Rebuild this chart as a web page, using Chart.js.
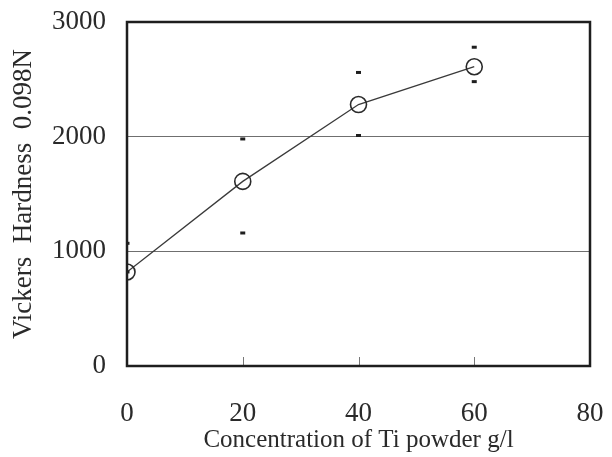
<!DOCTYPE html>
<html>
<head>
<meta charset="utf-8">
<script src="https://cdn.jsdelivr.net/npm/chart.js@4"></script>
<style>
  html, body { margin: 0; padding: 0; background: #fff; }
  #wrap { width: 612px; height: 457px; }
</style>
</head>
<body>
<div id="wrap"><canvas id="chart" width="612" height="457"></canvas></div>
<script>
  // Ti powder concentration (g/l) and Vickers hardness readings
  var concentration = [0, 20, 40, 60];
  var hardnessMean  = [820, 1610, 2280, 2610];
  var hardnessHigh  = [1070, 1980, 2560, 2780];
  var hardnessLow   = [820, 1160, 2010, 2480];
  var xTicks = [0, 20, 40, 60, 80];
  var yTicks = [0, 1000, 2000, 3000];

  function pts(ys) {
    return concentration.map(function (x, i) { return { x: x, y: ys[i] }; });
  }

  var serif = '"Liberation Serif", "DejaVu Serif", serif';
  var ink = '#2a2a2a';

  // box round the plot + short inward ticks on the x axis
  var frame = {
    id: 'frame',
    beforeDatasetsDraw: function (chart) {
      var a = chart.chartArea, ctx = chart.ctx, xs = chart.scales.x;
      ctx.save();
      ctx.strokeStyle = '#777';
      ctx.lineWidth = 1;
      [20, 40, 60].forEach(function (v) {
        var px = Math.round(xs.getPixelForValue(v)) + 0.5;
        ctx.beginPath();
        ctx.moveTo(px, a.bottom);
        ctx.lineTo(px, a.bottom - 9);
        ctx.stroke();
      });
      ctx.restore();
    },
    afterDraw: function (chart) {
      var a = chart.chartArea, ctx = chart.ctx;
      ctx.save();
      ctx.strokeStyle = '#1e1e1e';
      ctx.lineWidth = 2.5;
      ctx.strokeRect(a.left, a.top, a.right - a.left, a.bottom - a.top);
      ctx.restore();
    }
  };

  new Chart(document.getElementById('chart'), {
    type: 'scatter',
    data: {
      datasets: [
        { data: pts(hardnessHigh), pointStyle: 'line', pointRadius: 2.5, borderWidth: 3,
          borderColor: '#1e1e1e', backgroundColor: '#1e1e1e', showLine: false },
        { data: pts(hardnessLow), pointStyle: 'line', pointRadius: 2.5, borderWidth: 3,
          borderColor: '#1e1e1e', backgroundColor: '#1e1e1e', showLine: false },
        { data: pts(hardnessMean), showLine: true, borderColor: '#3a3a3a', borderWidth: 1.3,
          pointRadius: 8, pointBorderWidth: 1.6, pointBorderColor: '#2a2a2a',
          pointBackgroundColor: 'rgba(255,255,255,0)' }
      ]
    },
    options: {
      responsive: false,
      animation: false,
      layout: { padding: { top: 22, right: 22, left: 0, bottom: 0 } },
      plugins: { legend: { display: false }, tooltip: { enabled: false } },
      scales: {
        x: {
          type: 'linear', min: 0, max: 80,
          afterBuildTicks: function (s) { s.ticks = xTicks.map(function (v) { return { value: v }; }); },
          afterFit: function (s) { s.height = 91; s.paddingLeft = 0; s.paddingRight = 0; },
          grid: { display: false },
          border: { display: false },
          ticks: { padding: 24, color: ink, font: { family: serif, size: 27 },
                   callback: function (v) { return String(v); } },
          title: { display: true, text: 'Concentration of Ti powder g/l', color: ink,
                   font: { family: serif, size: 25 }, padding: { top: 0, bottom: 2 } }
        },
        y: {
          min: 0, max: 3000,
          afterBuildTicks: function (s) { s.ticks = yTicks.map(function (v) { return { value: v }; }); },
          afterFit: function (s) { s.width = 127; s.paddingTop = 0; s.paddingBottom = 0; },
          grid: {
            drawTicks: false,
            color: function (c) { return (c.tick.value === 0 || c.tick.value === 3000) ? 'rgba(0,0,0,0)' : '#6f6f6f'; },
            lineWidth: 1
          },
          border: { display: false },
          ticks: { padding: 21, color: ink, font: { family: serif, size: 27 },
                   callback: function (v) { return String(v); } },
          title: { display: true, text: 'Vickers  Hardness  0.098N', color: ink,
                   font: { family: serif, size: 27 }, padding: { top: 8, bottom: 0 } }
        }
      }
    },
    plugins: [frame]
  });
</script>
</body>
</html>
